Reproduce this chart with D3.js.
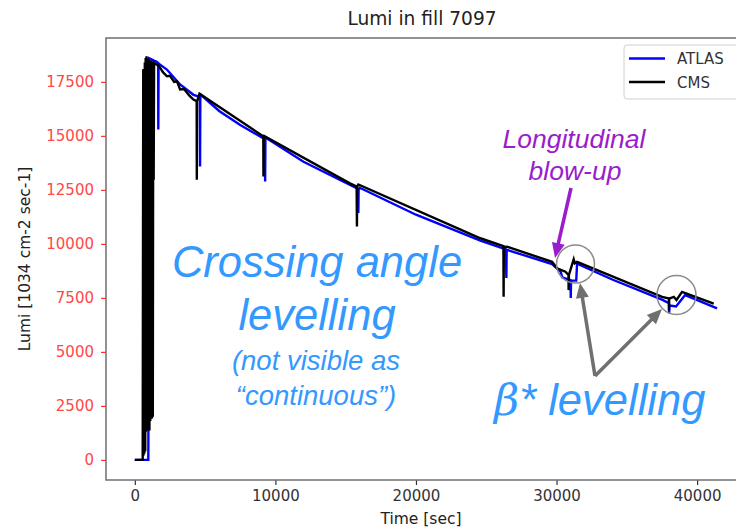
<!DOCTYPE html>
<html>
<head>
<meta charset="utf-8">
<script src="https://cdn.jsdelivr.net/npm/d3@7/dist/d3.min.js"></script>
<style>
  html, body { margin: 0; padding: 0; background: #fff; }
  svg { display: block; }
</style>
</head>
<body>
<svg id="chart" width="736" height="528"></svg>
<script>
// ---------------- DATA ----------------
const title = "Lumi in fill 7097";
const xLabel = "Time [sec]";
const yLabel = "Lumi [1034 cm-2 sec-1]";
const seriesNames = ["ATLAS", "CMS"];
const xTicks = [0, 10000, 20000, 30000, 40000];
const yTicks = [0, 2500, 5000, 7500, 10000, 12500, 15000, 17500];

// ATLAS (blue): time [s], lumi
const atlasTime = [0, 960, 970, 985, 1000, 1150, 1300, 1500, 1660, 1670, 1690, 2280, 3220, 4170, 4630, 4640, 4660, 4700,
  6000, 7500, 9250, 9270, 9290, 9350, 12000, 15850, 15900, 15920, 16000, 20000, 24580, 26400, 26430, 26450, 26500,
  29680, 30300, 30400, 31000, 31010, 31030, 31400, 31460, 34000, 37500, 38000, 38010, 38030, 38500, 39150, 41420];
const atlasLumi = [0, 0, 2200, 18200, 18600, 18550, 18500, 18450, 18380, 15300, 18350, 18070, 17380, 16900, 16800, 13580, 16820, 16900,
  16150, 15500, 14850, 12890, 14850, 14900, 13800, 12550, 11430, 12500, 12600, 11350, 10150, 9750, 8420, 9680, 9720,
  9060, 8700, 8450, 8320, 7490, 8300, 8300, 9080, 8340, 7420, 7250, 6780, 7150, 7100, 7630, 7010];

// CMS (black): time [s], lumi
const cmsTime = [0, 560, 600, 620, 650, 680, 710, 740, 770, 800, 830, 860, 890, 920, 950, 980, 1010, 1040, 1070, 1100,
  1130, 1160, 1190, 1220, 1250, 1280, 1310, 1340, 1370, 1420, 1700, 2000, 2280, 2500, 2800, 3000, 3220, 3500, 3900,
  4170, 4400, 4410, 4430, 4600, 9140, 9150, 9170, 9200, 15300, 15780, 15800, 15820, 15900, 24580, 26220, 26235, 26250,
  26480, 29680, 30040, 30630, 30850, 30860, 30880, 31220, 31300, 31460, 37510, 37990, 38000, 38010, 38340, 38530,
  38930, 41180];
const cmsLumi = [0, 0, 18080, 200, 18100, 300, 18400, 400, 18600, 1300, 18690, 1360, 18600, 1400, 18550, 1400, 18500, 1360, 18500, 1800,
  18500, 1900, 18450, 1920, 18450, 2000, 18400, 12970, 18400, 18350, 18250, 17950, 17760, 17780, 17500, 17520, 17150, 17170, 16850,
  16680, 16600, 12970, 16600, 16950, 14980, 13120, 14950, 15000, 12800, 12650, 10800, 12650, 12750, 10260, 9900, 7550, 9850,
  9870, 9170, 8870, 8710, 8560, 7860, 8560, 9290, 9100, 9170, 7550, 7470, 6930, 7470, 7550, 7400,
  7780, 7240];

const seriesColors = ["#0000ff", "#000000"];

// ---------------- CHART ----------------
const svg = d3.select("#chart");
const mLeft = 106, mRight = 740, mTop = 38, mBottom = 480;
const x = d3.scaleLinear().domain([-2050, 43050]).range([mLeft, mRight]);
const y = d3.scaleLinear().domain([-930, 19530]).range([mBottom, mTop]);

const font = "'DejaVu Sans', sans-serif";

svg.append("defs").append("clipPath").attr("id", "clip")
  .append("rect").attr("x", mLeft).attr("y", mTop).attr("width", mRight - mLeft).attr("height", mBottom - mTop);

// Axes
const xAxis = svg.append("g").attr("transform", `translate(0,${mBottom})`)
  .call(d3.axisBottom(x).tickValues(xTicks).tickFormat(d3.format("d")).tickSize(5).tickPadding(5));
xAxis.select(".domain").remove();
xAxis.selectAll(".tick line").attr("stroke", "#333").attr("stroke-width", 1.2);
xAxis.selectAll(".tick text").attr("fill", "#333").style("font-family", font).style("font-size", "15px");

const yAxis = svg.append("g").attr("transform", `translate(${mLeft},0)`)
  .call(d3.axisLeft(y).tickValues(yTicks).tickFormat(d3.format("d")).tickSize(5).tickPadding(7));
yAxis.select(".domain").remove();
yAxis.selectAll(".tick line").attr("stroke", "#ff3030").attr("stroke-width", 1.2);
yAxis.selectAll(".tick text").attr("fill", "#ff4848").style("font-family", font).style("font-size", "15px");

// Data lines
const data = [
  atlasTime.map((t, i) => [t, atlasLumi[i]]),
  cmsTime.map((t, i) => [t, cmsLumi[i]])
];
const line = d3.line().x(d => x(d[0])).y(d => y(d[1]));
const plot = svg.append("g").attr("clip-path", "url(#clip)");
data.forEach((d, i) => {
  plot.append("path").datum(d).attr("d", line)
    .attr("fill", "none").attr("stroke", seriesColors[i])
    .attr("stroke-width", 2.4).attr("stroke-linejoin", "miter");
});

// Spines
svg.append("rect").attr("x", mLeft).attr("y", mTop).attr("width", mRight - mLeft).attr("height", mBottom - mTop)
  .attr("fill", "none").attr("stroke", "#6f6f6f").attr("stroke-width", 1.5);

// Title & labels
svg.append("text").attr("x", (mLeft + mRight) / 2 - 1).attr("y", 25).attr("text-anchor", "middle")
  .style("font-family", font).style("font-size", "18.6px").attr("fill", "#222").text(title);
svg.append("text").attr("x", (mLeft + mRight) / 2 - 2).attr("y", 524).attr("text-anchor", "middle")
  .style("font-family", font).style("font-size", "15.5px").attr("fill", "#222").text(xLabel);
svg.append("text").attr("transform", `translate(30,${(mTop + mBottom) / 2}) rotate(-90)`).attr("text-anchor", "middle")
  .style("font-family", font).style("font-size", "15.5px").attr("fill", "#222").text(yLabel);

// Legend
const lg = svg.append("g");
lg.append("rect").attr("x", 624).attr("y", 45).attr("width", 130).attr("height", 54).attr("rx", 3)
  .attr("fill", "#fff").attr("fill-opacity", 0.85).attr("stroke", "#d0d0d0").attr("stroke-width", 1);
seriesNames.forEach((n, i) => {
  const yy = 58.5 + i * 23.5;
  lg.append("line").attr("x1", 629).attr("x2", 665).attr("y1", yy).attr("y2", yy)
    .attr("stroke", seriesColors[i]).attr("stroke-width", 2.4);
  lg.append("text").attr("x", 677).attr("y", yy + 5.5).style("font-family", font).style("font-size", "15px")
    .attr("fill", "#333").text(n);
});

// Annotations
const ann = svg.append("g");
const sans = "'Liberation Sans', Arial, sans-serif";
const blueTxt = "#3399ff";
function txt(xp, yp, size, color, str) {
  return ann.append("text").attr("x", xp).attr("y", yp).attr("text-anchor", "middle")
    .style("font-family", sans).style("font-style", "italic").style("font-size", size + "px")
    .attr("fill", color).text(str);
}
txt(317, 277, 43.5, blueTxt, "Crossing angle");
txt(317, 330, 43.5, blueTxt, "levelling");
txt(316, 370, 27.5, blueTxt, "(not visible as");
txt(316, 405, 27.5, blueTxt, "\u201Ccontinuous\u201D)");

const purple = "#9a1ccc";
txt(574, 148, 26.5, purple, "Longitudinal");
txt(575, 180, 26.5, purple, "blow-up");

const beta = ann.append("text").attr("x", 494).attr("y", 415)
  .style("font-family", sans).style("font-style", "italic").style("font-size", "43.5px").attr("fill", blueTxt);
beta.append("tspan").style("font-family", "'DejaVu Serif', 'Liberation Serif', serif").text("\u03B2");
beta.append("tspan").text("* levelling");

function arrow(x1, y1, x2, y2, color, w, hl, hw) {
  const dx = x2 - x1, dy = y2 - y1, L = Math.hypot(dx, dy);
  const ux = dx / L, uy = dy / L;
  const bx = x2 - ux * hl, by = y2 - uy * hl;
  ann.append("line").attr("x1", x1).attr("y1", y1).attr("x2", bx + ux * 1).attr("y2", by + uy * 1)
    .attr("stroke", color).attr("stroke-width", w);
  ann.append("polygon")
    .attr("points", `${x2},${y2} ${bx - uy * hw},${by + ux * hw} ${bx + uy * hw},${by - ux * hw}`)
    .attr("fill", color);
}
arrow(571, 188, 555, 258, purple, 3.5, 15, 6.5);
arrow(595, 376, 580, 283, "#707070", 3.5, 15, 6.5);
arrow(595, 376, 662, 309, "#707070", 3.5, 15, 6.5);

ann.append("circle").attr("cx", 575.5).attr("cy", 264).attr("r", 19)
  .attr("fill", "none").attr("stroke", "#8a8a8a").attr("stroke-width", 1.5);
ann.append("circle").attr("cx", 676.5).attr("cy", 295).attr("r", 19.5)
  .attr("fill", "none").attr("stroke", "#8a8a8a").attr("stroke-width", 1.5);
</script>
</body>
</html>
